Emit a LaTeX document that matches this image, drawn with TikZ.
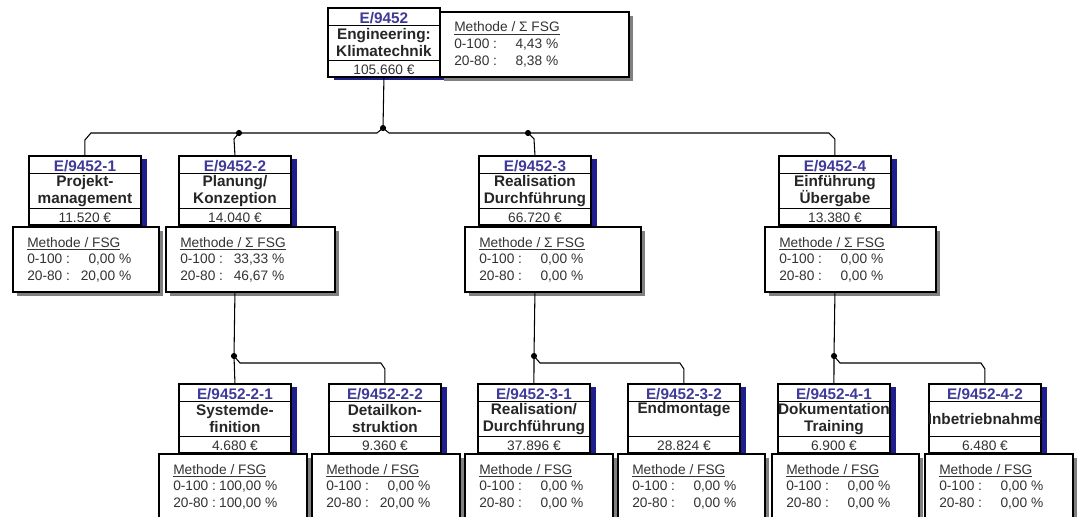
\documentclass[tikz,border=0pt]{standalone}
\usepackage{fontspec}
\setmainfont{Liberation Sans}
\usetikzlibrary{positioning,calc,shadows}
\definecolor{wbsnavy}{HTML}{1E1E8C}
\definecolor{wbsid}{HTML}{3F3A99}
\definecolor{wbsgrey}{HTML}{808080}

% one work package: name, x, y, id, title, price
\newcommand\wbsnode[6]{%
  \node[wbsbox] (#1) at (#2,#3) {};
  \draw[rowline] ($(#1.north west)+(0,18)$) -- ($(#1.north east)+(0,18)$);
  \draw[rowline] ($(#1.south west)+(0,-17)$) -- ($(#1.south east)+(0,-17)$);
  \node[idtext] (#1-id) at ($(#1.north)+(0,11)$) {#4};
  \node[titletext] (#1-tx) at ($(#1.north)+(0,36)$) {#5};
  \node[pricetext] (#1-pr) at ($(#1.south)+(0,-8)$) {#6};
}
% method box: name, x, y, width, sigma, value 0-100, value 20-80
\newcommand\wbsinfo[7]{%
  \node[infobox,minimum width=#4] (#1) at (#2,#3) {};
  \node[infotext] (#1-t) at ($(#1.west)+(15,0)$)
    {\underline{Methode / #5FSG}\\
     \makebox[78pt][l]{0-100 :\hfill #6}\\
     \makebox[78pt][l]{20-80 :\hfill #7}};
}

\begin{document}
\begin{tikzpicture}[x=0.75pt,y=-0.75pt,
  wbsbox/.style={draw,line width=1.4pt,fill=white,anchor=north west,inner sep=0pt,
    minimum width=84pt,minimum height=51.75pt,
    drop shadow={fill=wbsnavy,opacity=1,shadow xshift=4.5pt,shadow yshift=-2.25pt}},
  infobox/.style={draw,line width=1.4pt,fill=white,anchor=north west,inner sep=0pt,
    minimum height=48.75pt,
    drop shadow={fill=wbsgrey,opacity=1,shadow xshift=3pt,shadow yshift=-3pt}},
  rowline/.style={line width=.6pt},
  idtext/.style={inner sep=0pt,text=wbsid,font=\fontsize{11.5}{12.75}\selectfont\bfseries},
  titletext/.style={inner sep=0pt,align=center,text=black!85,font=\fontsize{11.5}{12.75}\selectfont\bfseries},
  pricetext/.style={inner sep=0pt,text=black!80,font=\fontsize{10.3}{12}\selectfont},
  infotext/.style={anchor=west,inner sep=0pt,align=left,text=black!80,font=\fontsize{10.3}{12.4}\selectfont},
  wbslink/.style={line width=.8pt},
  wbsdot/.style={fill=black}]
\useasboundingbox (0,0) rectangle (1077,517);
\clip (0,0) rectangle (1077,517);

% junctions
\coordinate (j0) at (383,128);
\coordinate (jb2) at (239,133);
\coordinate (jb3) at (528,133);
\coordinate (j2) at (234,356);
\coordinate (j3) at (534,356);
\coordinate (j4) at (834,356);

% top level
\wbsnode{p0}{327}{7}{E/9452}{Engineering:\\Klimatechnik}{105.660 €}
\wbsinfo{i0}{439}{11}{141.75pt}{Σ }{4,43 \%}{8,38 \%}

% second level
\wbsnode{p1}{28}{155}{E/9452-1}{Projekt-\\management}{11.520 €}
\wbsnode{p2}{178}{155}{E/9452-2}{Planung/\\Konzeption}{14.040 €}
\wbsnode{p3}{478}{155}{E/9452-3}{Realisation\\Durchführung}{66.720 €}
\wbsnode{p4}{778}{155}{E/9452-4}{Einführung\\Übergabe}{13.380 €}
\wbsinfo{i1}{12}{226}{109.5pt}{}{0,00 \%}{20,00 \%}
\wbsinfo{i2}{165}{226}{126.75pt}{Σ }{33,33 \%}{46,67 \%}
\wbsinfo{i3}{464}{226}{132pt}{Σ }{0,00 \%}{0,00 \%}
\wbsinfo{i4}{764}{226}{128.25pt}{Σ }{0,00 \%}{0,00 \%}

% third level
\wbsnode{q21}{178}{383}{E/9452-2-1}{Systemde-\\finition}{4.680 €}
\wbsnode{q22}{328}{383}{E/9452-2-2}{Detailkon-\\struktion}{9.360 €}
\wbsnode{q31}{477}{383}{E/9452-3-1}{Realisation/\\Durchführung}{37.896 €}
\wbsnode{q32}{627}{383}{E/9452-3-2}{Endmontage\\\strut}{28.824 €}
\wbsnode{q41}{777}{383}{E/9452-4-1}{Dokumentation\\Training}{6.900 €}
\wbsnode{q42}{928}{383}{E/9452-4-2}{Inbetriebnahme}{6.480 €}
\wbsinfo{k21}{158}{453}{111pt}{}{100,00 \%}{100,00 \%}
\wbsinfo{k22}{311}{453}{111pt}{}{0,00 \%}{20,00 \%}
\wbsinfo{k31}{464}{453}{111pt}{}{0,00 \%}{0,00 \%}
\wbsinfo{k32}{617}{453}{110.25pt}{}{0,00 \%}{0,00 \%}
\wbsinfo{k41}{771}{453}{110.25pt}{}{0,00 \%}{0,00 \%}
\wbsinfo{k42}{924}{453}{111pt}{}{0,00 \%}{0,00 \%}

% connectors
\draw[wbslink] (p0.south) -- (j0);
\draw[wbslink] (p1.north) -- ++(0,-15) -- ++(6,-7) -- (377,133) -- (j0) -- (389,133)
  -- ($(p4.north)+(-6,-22)$) -- ($(p4.north)+(0,-16)$) -- (p4.north);
\draw[wbslink] (jb2) -- ++(-5,6) -- (p2.north);
\draw[wbslink] (jb3) -- ++(6,6) -- (p3.north);
\draw[wbslink] (p2 |- i2.south) -- (j2) -- (q21.north);
\draw[wbslink] (j2) -- ++(6,7) -- ($(q22.north)+(-4,-20)$) -- ($(q22.north)+(0,-14)$) -- (q22.north);
\draw[wbslink] (p3 |- i3.south) -- (j3) -- (q31.north);
\draw[wbslink] (j3) -- ++(6,7) -- ($(q32.north)+(-4,-20)$) -- ($(q32.north)+(0,-14)$) -- (q32.north);
\draw[wbslink] (p4 |- i4.south) -- (j4) -- (q41.north);
\draw[wbslink] (j4) -- ++(6,7) -- ($(q42.north)+(-4,-20)$) -- ($(q42.north)+(0,-14)$) -- (q42.north);
\foreach \j in {j0,jb2,jb3,j2,j3,j4}
  \fill[wbsdot] (\j) circle[radius=2.3pt];
\end{tikzpicture}
\end{document}
